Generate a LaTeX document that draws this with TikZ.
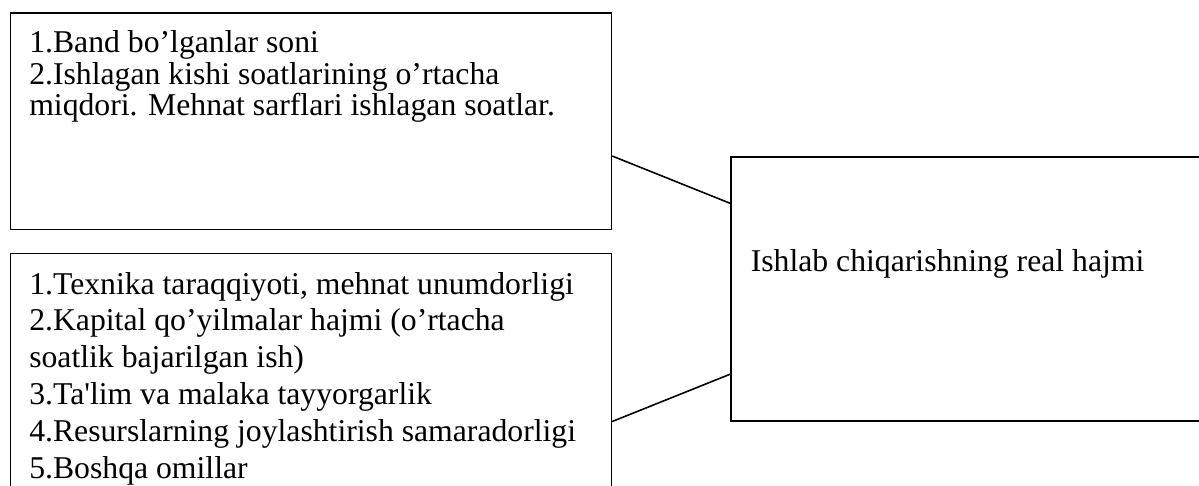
\documentclass[tikz,border=0pt]{standalone}
\usepackage{fontspec}
\setmainfont{Liberation Serif}
\usetikzlibrary{calc}

\begin{document}
\begin{tikzpicture}[x=0.3785pt,y=-0.3785pt,line width=0.6pt,
    box/.style={draw,rectangle,anchor=north west,inner sep=0pt},
    txt/.style={anchor=north west,inner sep=0pt,align=left,font=\fontsize{12}{#1}\selectfont}]
  \useasboundingbox (0,0) rectangle (1199,486);
  % left boxes: factors
  \node[box,minimum width=227.5pt,minimum height=81.8pt] (labour) at (9.5,12.5) {};
  \node[box,minimum width=227.5pt,minimum height=91.8pt] (prod) at (9.5,252.5) {};
  % right box: result
  \node[box,minimum width=181.7pt,minimum height=99.9pt] (output) at (730,156) {};
  \node[txt=11.85pt] (labourtext) at (28.5,30.1) {1.Band bo’lganlar soni\\2.Ishlagan kishi soatlarining o’rtacha\\miqdori. Mehnat sarflari ishlagan soatlar.};
  \node[txt=13.93pt] (prodtext) at (28.5,271.4) {1.Texnika taraqqiyoti, mehnat unumdorligi\\2.Kapital qo’yilmalar hajmi (o’rtacha\\soatlik bajarilgan ish)\\3.Ta\textquotesingle lim va malaka tayyorgarlik\\4.Resurslarning joylashtirish samaradorligi\\5.Boshqa omillar};
  \node[txt=13.93pt] (outputtext) at (750,248.4) {Ishlab chiqarishning real hajmi};
  % connectors
  \draw (labour.east |- output.north) -- ($(output.north west)!0.178!(output.south west)$);
  \draw (prod.east |- output.south) -- ($(output.south west)!0.178!(output.north west)$);
\end{tikzpicture}
\end{document}
